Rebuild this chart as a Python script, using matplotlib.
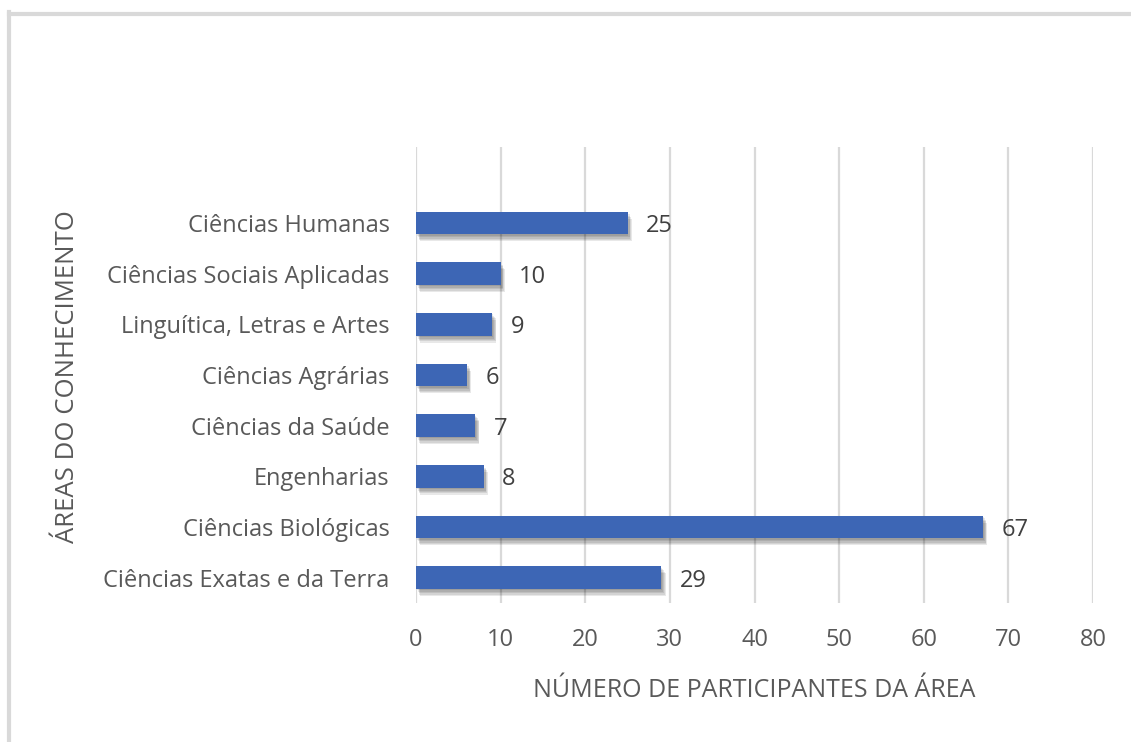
import matplotlib
matplotlib.use("Agg")
import matplotlib.pyplot as plt
import matplotlib.patheffects as pe

categories = [
    "Ciências Exatas e da Terra",
    "Ciências Biológicas",
    "Engenharias",
    "Ciências da Saúde",
    "Ciências Agrárias",
    "Linguítica, Letras e Artes",
    "Ciências Sociais Aplicadas",
    "Ciências Humanas",
]
values = [29, 67, 8, 7, 6, 9, 10, 25]
xticks = [0, 10, 20, 30, 40, 50, 60, 70, 80]
xlabel = "NÚMERO DE PARTICIPANTES DA ÁREA"
ylabel = "ÁREAS DO CONHECIMENTO"

plt.rcParams['font.family'] = ['Open Sans', 'DejaVu Sans']
text_color = "#595959"
grid_color = "#d9d9d9"

fig = plt.figure(figsize=(11.31, 7.42), dpi=100)
fig.patch.set_facecolor("white")

# chart frame (left and top visible)
fig.add_artist(plt.Line2D([8.5/1131, 8.5/1131], [0, 1 - 12/742], transform=fig.transFigure,
                          color=grid_color, lw=3))
fig.add_artist(plt.Line2D([8.5/1131, 1], [1 - 13.5/742, 1 - 13.5/742], transform=fig.transFigure,
                          color=grid_color, lw=3))

ax = fig.add_axes([416/1131, 139/742, 677/1131, 456/742])
ypos = list(range(len(categories)))
bars = ax.barh(ypos, values, height=0.45, color="#3d66b5", zorder=3)
shadow = [pe.SimplePatchShadow(offset=(dx, -d), shadow_rgbFace="#000000", alpha=0.09)
          for dx, d in ((0.5, 1), (1.5, 2), (2, 3), (2.5, 4), (3, 5))]
for b in bars:
    b.set_path_effects(shadow + [pe.Normal()])

for y, v in zip(ypos, values):
    ax.text(v + 2.2, y, str(v), va="center_baseline", ha="left", fontsize=17, color="#404040")

ax.set_xlim(0, 80)
ax.set_ylim(-0.5, len(categories) + 0.5)
ax.set_xticks(xticks)
ax.set_yticks(ypos)
ax.set_yticklabels(categories)
ax.tick_params(axis="both", length=0, labelsize=17, colors=text_color)
ax.tick_params(axis="x", pad=18)
ax.tick_params(axis="y", pad=19)
ax.xaxis.grid(True, color=grid_color, lw=1.6, zorder=0)
ax.yaxis.grid(False)
for s in ax.spines.values():
    s.set_visible(False)

ax.set_xlabel(xlabel, fontsize=18, color=text_color, labelpad=19)
fig.text(68/1131, 1 - 377/742, ylabel, rotation=90, ha="center", va="center",
         fontsize=18.5, color=text_color)

fig.savefig("out.png", dpi=100)
